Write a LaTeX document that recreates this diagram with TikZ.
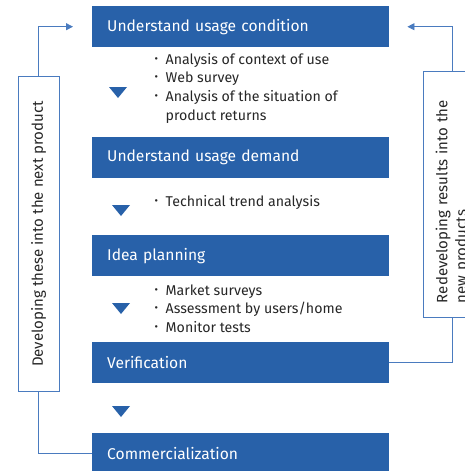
\documentclass[tikz,border=0pt]{standalone}
\usepackage{fontspec}
\setmainfont{Fira Sans}
\usetikzlibrary{arrows.meta}
\definecolor{stageblue}{HTML}{2861A9}
\definecolor{linkblue}{HTML}{4A7BBF}
\definecolor{txtgray}{HTML}{262626}
\newcommand{\dotmark}{\makebox[11pt][l]{\raisebox{0.25ex}{\scalebox{0.75}{\textbullet}}}}

\begin{document}
\begin{tikzpicture}[x=1pt, y=-1pt,
    stage/.style={fill=stageblue, text=white, anchor=north west, minimum height=41pt,
        inner ysep=0pt, inner xsep=15pt, text width=267pt, align=left,
        font=\fontsize{15.6}{18}\selectfont},
    items/.style={anchor=base west, inner sep=0pt, text=txtgray,
        font=\fontsize{14.2}{18.7}\selectfont},
    loopbox/.style={draw=linkblue, line width=0.8pt, rotate=90, text=txtgray,
        font=\fontsize{15}{19}\selectfont},
    link/.style={draw=linkblue, line width=0.8pt}]

    \useasboundingbox (0,0) rectangle (464,471);

    %Stages
    \node[stage] (cond) at (92,6) {Understand usage condition};
    \node[stage] (demand) at (92,137) {Understand usage demand};
    \node[stage] (idea) at (92,235) {Idea planning};
    \node[stage] (verif) at (92,342) {Verification};
    \node[stage] (comm) at (92,433) {Commercialization};

    %Activities of each stage
    \node[items] (condlist) at (154.5,64) {\begin{tabular}[t]{@{}l@{}l@{}}
        \dotmark & Analysis of context of use \\
        \dotmark & Web survey \\
        \dotmark & Analysis of the situation of \\
                 & product returns \end{tabular}};
    \node[items] (demandlist) at (154.5,206) {\begin{tabular}[t]{@{}l@{}l@{}}
        \dotmark & Technical trend analysis \end{tabular}};
    \node[items] (idealist) at (154.5,295) {\begin{tabular}[t]{@{}l@{}l@{}}
        \dotmark & Market surveys \\
        \dotmark & Assessment by users/home \\
        \dotmark & Monitor tests \end{tabular}};

    %Down marks between stages
    \foreach \x/\y in {118/87, 121/205, 121/303, 121/406}
    \fill[stageblue] (\x-9,\y) -- (\x+9,\y) -- (\x,\y+11) -- cycle;

    %Feedback loops
    \node[loopbox, minimum width=315pt, minimum height=41pt, align=center] (devbox)
        at (38.5,234) {Developing these into the next product};
    \node[loopbox, minimum width=246pt, minimum height=59pt, inner xsep=14pt,
        text width=218pt, align=left] (redev)
        at (452.5,194) {Redeveloping results into the\\new products};

    \draw[link, -{Triangle[length=7pt, width=7pt]}] (devbox.east) |- ([xshift=-19pt]cond.west);
    \draw[link] (devbox.west) |- (comm.west);
    \draw[link, -{Triangle[length=7pt, width=7pt]}] (redev.east) |- ([xshift=18pt]cond.east);
    \draw[link] (redev.west) |- (verif.east);

\end{tikzpicture}
\end{document}
